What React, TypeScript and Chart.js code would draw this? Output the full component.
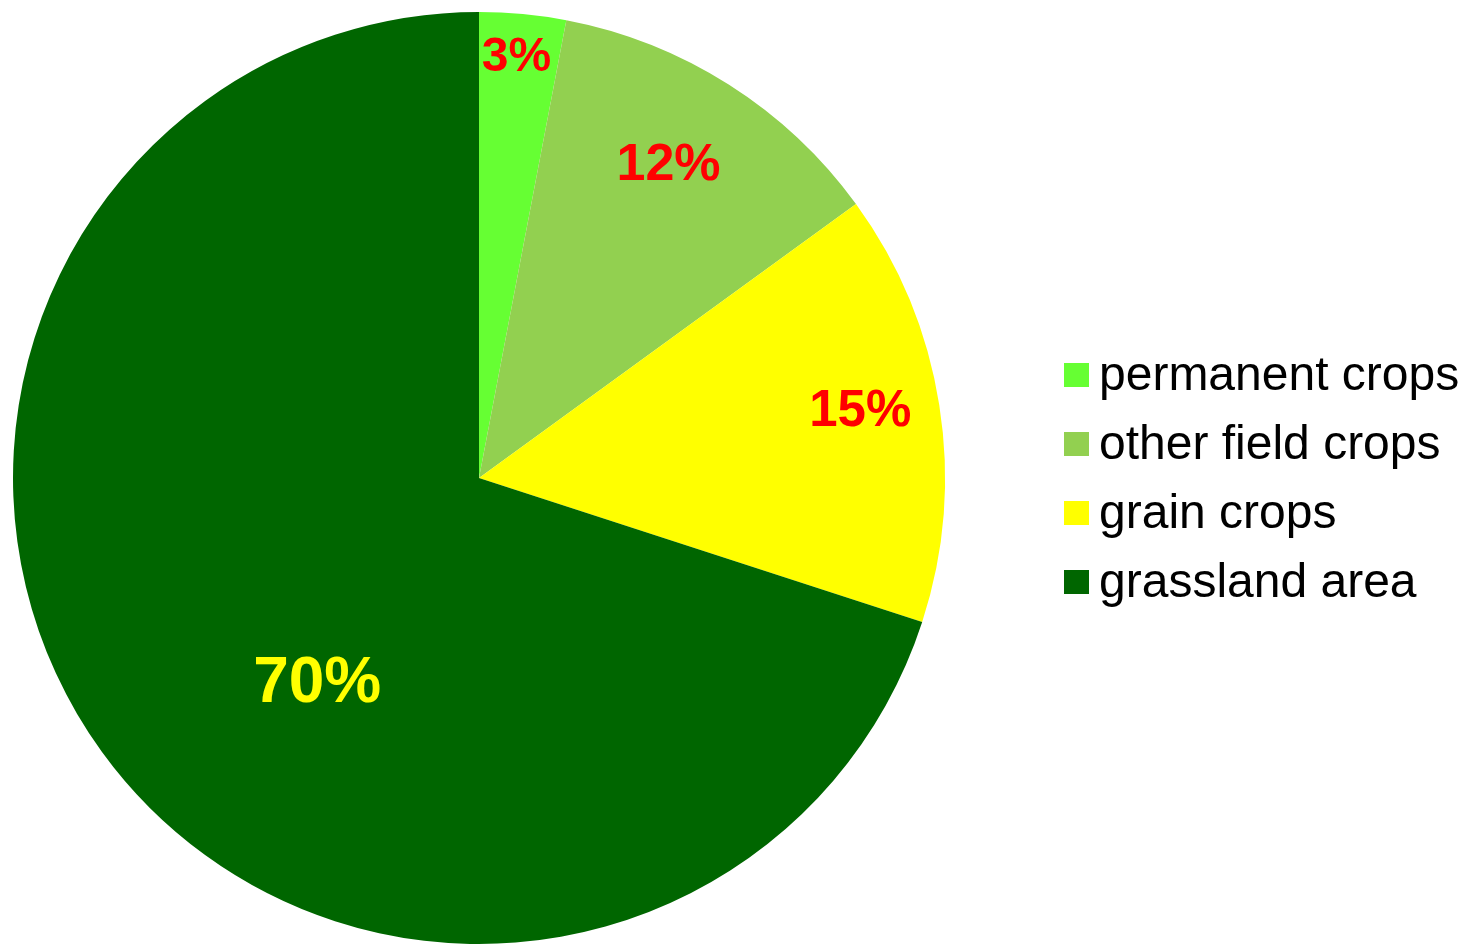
import React, { useEffect, useRef } from "react";
import { Chart, registerables } from "chart.js";

Chart.register(...registerables);

const categories = ["permanent crops", "other field crops", "grain crops", "grassland area"];
const shares = [3, 12, 15, 70];
const sliceColors = ["#66FF33", "#92D050", "#FFFF00", "#006600"];
const valueLabels = ["3%", "12%", "15%", "70%"];
const valueLabelColors = ["#FF0000", "#FF0000", "#FF0000", "#FFFF00"];

// label placement style: radius fraction, angle offset (deg) from slice middle, font size
const labelRadius = [0.914, 0.792, 0.832, 0.554];
const labelAngleShift = [-0.35, -1.5, -1.5, -15.2];
const labelFontSize = [48, 52, 51, 64];

const valueLabelPlugin = {
  id: "valueLabels",
  afterDatasetsDraw(chart: any) {
    const meta = chart.getDatasetMeta(0);
    const ctx = chart.ctx;
    ctx.save();
    meta.data.forEach((arc: any, i: number) => {
      const { x, y, startAngle, endAngle, outerRadius } = arc.getProps(
        ["x", "y", "startAngle", "endAngle", "outerRadius"],
        true
      );
      const mid = (startAngle + endAngle) / 2 + (labelAngleShift[i] * Math.PI) / 180;
      const r = outerRadius * labelRadius[i];
      const cx = x + Math.cos(mid) * r;
      const cy = y + Math.sin(mid) * r;
      const size = labelFontSize[i];
      ctx.font = `bold ${size}px "Liberation Sans", Arial, sans-serif`;
      ctx.fillStyle = valueLabelColors[i];
      ctx.textAlign = "center";
      ctx.textBaseline = "alphabetic";
      ctx.fillText(valueLabels[i], cx, cy + size * 0.358);
    });
    ctx.restore();
  },
};

const sideLegendPlugin = {
  id: "sideLegend",
  afterDraw(chart: any) {
    const ctx = chart.ctx;
    const labels = chart.data.labels as string[];
    const colors = chart.data.datasets[0].backgroundColor as string[];
    const boxX = 1064;
    const firstTop = 363;
    const step = 69;
    ctx.save();
    ctx.font = `48px "Liberation Sans", Arial, sans-serif`;
    ctx.textAlign = "left";
    ctx.textBaseline = "alphabetic";
    labels.forEach((lab, i) => {
      const top = firstTop + step * i;
      ctx.fillStyle = colors[i];
      ctx.fillRect(boxX, top, 25, 24);
      ctx.fillStyle = "#000000";
      ctx.fillText(lab, 1099, top + 27);
    });
    ctx.restore();
  },
};

export default function App() {
  const canvasRef = useRef<HTMLCanvasElement>(null);

  useEffect(() => {
    if (!canvasRef.current) return;
    const chart = new Chart(canvasRef.current, {
      type: "pie",
      data: {
        labels: categories,
        datasets: [
          {
            data: shares,
            backgroundColor: sliceColors,
            borderWidth: 0,
          },
        ],
      },
      options: {
        responsive: false,
        animation: false,
        layout: { padding: { top: 12, bottom: 1, left: 12, right: 520 } },
        plugins: {
          legend: { display: false },
          tooltip: { enabled: false },
        },
      },
      plugins: [valueLabelPlugin, sideLegendPlugin],
    });
    return () => chart.destroy();
  }, []);

  return (
    <div style={{ position: "fixed", left: 0, top: 0, width: 1466, height: 945, background: "#ffffff" }}>
      <canvas ref={canvasRef} width={1466} height={945} style={{ display: "block", width: 1466, height: 945 }} />
    </div>
  );
}
